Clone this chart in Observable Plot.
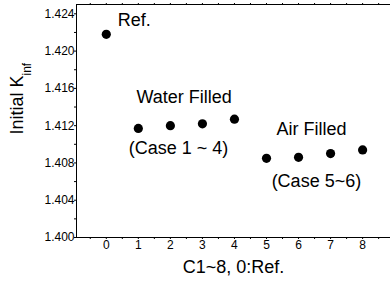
<!DOCTYPE html>
<html>
<head>
<meta charset="utf-8">
<script src="https://cdn.jsdelivr.net/npm/d3@7"></script>
<script src="https://cdn.jsdelivr.net/npm/@observablehq/plot@0.6"></script>
<style>
  html, body { margin: 0; padding: 0; background: #fff; }
  #chart svg { display: block; }
</style>
</head>
<body>
<div id="chart"></div>
<script>
// Data
const cases = [0, 1, 2, 3, 4, 5, 6, 7, 8];
const kinf = [1.4218, 1.4117, 1.4120, 1.4122, 1.4127, 1.4085, 1.4086, 1.4090, 1.4094];
const xTickLabels = [0, 1, 2, 3, 4, 5, 6, 7, 8];
const xTickMarks = [-0.5, 0, 0.5, 1, 1.5, 2, 2.5, 3, 3.5, 4, 4.5, 5, 5.5, 6, 6.5, 7, 7.5, 8, 8.5];
const yTickLabels = [1.400, 1.404, 1.408, 1.412, 1.416, 1.420, 1.424];
const yTickMarks = [1.400, 1.402, 1.404, 1.406, 1.408, 1.410, 1.412, 1.414, 1.416, 1.418, 1.420, 1.422, 1.424];
const noteText = ["Ref.", "Water Filled", "(Case 1 ~ 4)", "Air Filled", "(Case 5~6)"];
const noteX = [0.36, 0.94, 0.70, 5.31, 5.16];
const noteY = [1.42328, 1.41502, 1.40953, 1.41167, 1.40599];
const xTitle = "C1~8, 0:Ref.";
const yTitle = "Initial K";
const yTitleSub = "inf";

const points = cases.map((c, i) => ({c, k: kinf[i]}));
const notes = noteText.map((t, i) => ({t, x: noteX[i], y: noteY[i]}));

const xDomain = [-0.93, 8.87];
const yDomain = [1.400, 1.425];

const chart = Plot.plot({
  width: 390,
  height: 281,
  marginLeft: 76,
  marginRight: 0,
  marginTop: 4,
  marginBottom: 44,
  style: {fontFamily: "'Liberation Sans', Arial, sans-serif", fontSize: "12px", color: "#000", background: "#fff"},
  x: {domain: xDomain},
  y: {domain: yDomain},
  marks: [
    Plot.ruleY([yDomain[0]], {stroke: "#000"}),
    Plot.ruleY([yDomain[1]], {stroke: "#000"}),
    Plot.ruleX([xDomain[0]], {stroke: "#000"}),
    Plot.axisX({anchor: "bottom", ticks: xTickMarks, tickSize: 2, tickFormat: () => "", label: null}),
    Plot.axisX({anchor: "top", ticks: xTickMarks, tickSize: 2, tickFormat: () => "", label: null}),
    Plot.axisX({anchor: "bottom", ticks: xTickLabels, tickSize: 0, tickPadding: 3, tickFormat: d3.format("d"), fontSize: 12, label: null}),
    Plot.axisY({anchor: "left", ticks: yTickMarks, tickSize: 2, tickFormat: () => "", label: null}),
    Plot.axisY({anchor: "left", ticks: yTickLabels, tickSize: 0, tickPadding: 2, tickFormat: d3.format(".3f"), fontSize: 12, label: null}),
    Plot.dot(points, {x: "c", y: "k", r: 4.6, fill: "#000", stroke: null}),
    Plot.text(notes, {x: "x", y: "y", text: "t", textAnchor: "start", lineAnchor: "middle", fontSize: 18, fill: "#000"}),
    Plot.text([xTitle], {frameAnchor: "bottom", dy: 30, lineAnchor: "middle", fontSize: 18, fill: "#000"}),
    Plot.text([yTitle], {frameAnchor: "left", rotate: -90, dx: -58.8, dy: 13.5, lineAnchor: "middle", fontSize: 18, fill: "#000"})
  ]
});

document.getElementById("chart").appendChild(chart);

// subscript on the y title
d3.select(chart).selectAll("text").filter(function() { return this.textContent === yTitle; })
  .each(function() {
    const t = d3.select(this);
    t.append("tspan").attr("dy", 8).attr("font-size", 12).text(yTitleSub);
  });
</script>
</body>
</html>
